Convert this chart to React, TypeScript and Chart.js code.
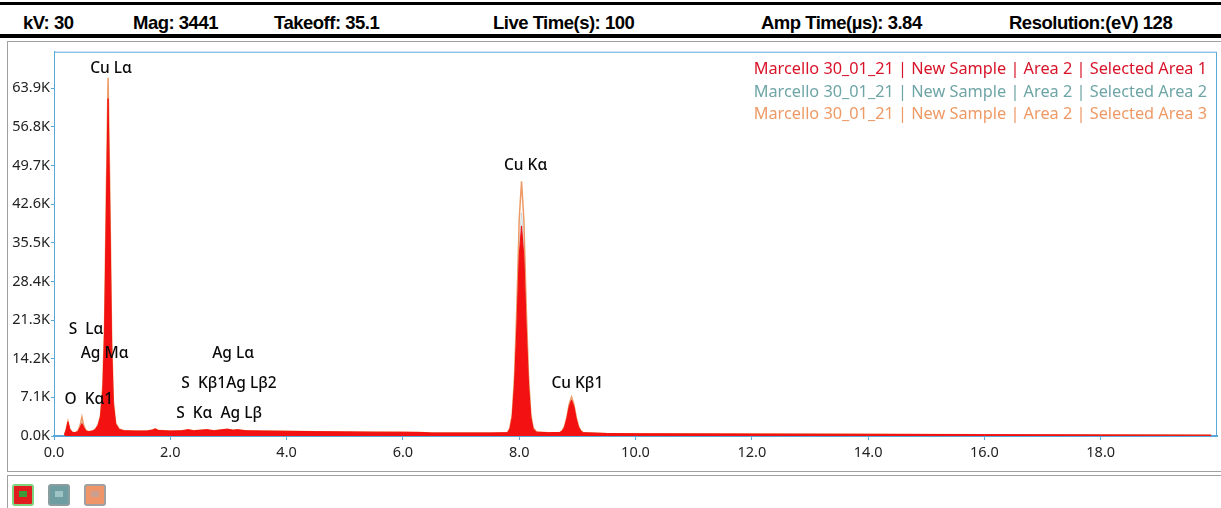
import React, { useEffect, useRef } from "react";
import { Chart, registerables } from "chart.js";

Chart.register(...registerables);

// ---------- DATA ----------
const energies = [
  0.18, 0.21, 0.24, 0.27, 0.31, 0.36, 0.41, 0.45, 0.48, 0.51, 0.55, 0.6, 0.66, 0.71, 0.76, 0.8, 0.84, 0.87,
  0.9, 0.93, 0.96, 0.99, 1.02, 1.06, 1.12, 1.2, 1.4, 1.6, 1.7, 1.74, 1.8, 2.0, 2.2, 2.31, 2.4, 2.63, 2.75,
  2.98, 3.08, 3.15, 3.3, 3.6, 4.0, 4.5, 5.0, 5.5, 6.0, 6.3, 6.5, 7.0, 7.5, 7.8, 7.84, 7.88, 7.92, 7.96, 8.0,
  8.04, 8.08, 8.12, 8.16, 8.2, 8.24, 8.3, 8.5, 8.7, 8.74, 8.78, 8.82, 8.86, 8.9, 8.94, 8.98, 9.02, 9.06, 9.1,
  9.5, 10, 12, 14, 16, 18, 19.9,
];

// counts in K (thousands)
const area1 = [
  0.2, 1.2, 2.6, 1.3, 0.7, 0.6, 0.8, 1.6, 2.3, 1.6, 0.9, 0.8, 0.9, 1.2, 2.0, 3.6, 8.5, 19,
  41, 62, 41, 17, 6, 2.2, 1.2, 0.95, 0.9, 0.9, 1.1, 1.3, 1.0, 0.9, 0.95, 1.15, 0.95, 1.15, 0.95,
  1.25, 1.05, 1.15, 0.95, 0.9, 0.85, 0.8, 0.75, 0.7, 0.68, 0.65, 0.55, 0.55, 0.55, 0.6, 1.3, 3.4, 9.5, 20, 33,
  38.6, 33, 20, 9.5, 3.4, 1.3, 0.7, 0.6, 0.65, 0.9, 1.6, 3.2, 5.4, 6.6, 5.4, 3.2, 1.6, 0.9, 0.6,
  0.45, 0.4, 0.35, 0.3, 0.25, 0.2, 0.15,
];

const area2 = [
  0.2, 1.1, 2.5, 1.2, 0.7, 0.6, 0.8, 1.7, 2.8, 1.7, 0.9, 0.8, 0.9, 1.2, 2.0, 3.5, 8.3, 18.5,
  40, 60, 40, 16.5, 5.8, 2.1, 1.2, 0.95, 0.9, 0.9, 1.1, 1.25, 1.0, 0.9, 0.95, 1.1, 0.95, 1.1, 0.95,
  1.2, 1.0, 1.1, 0.95, 0.9, 0.85, 0.8, 0.75, 0.7, 0.68, 0.65, 0.55, 0.55, 0.55, 0.6, 1.4, 3.6, 10, 21.3, 35,
  41, 35, 21.3, 10, 3.6, 1.4, 0.7, 0.6, 0.65, 0.95, 1.7, 3.3, 5.6, 6.8, 5.6, 3.3, 1.7, 0.95, 0.6,
  0.45, 0.4, 0.35, 0.3, 0.25, 0.2, 0.15,
];

const area3 = [
  0.2, 1.2, 2.7, 1.3, 0.7, 0.6, 0.9, 2.0, 3.5, 2.0, 1.0, 0.8, 0.9, 1.2, 2.1, 3.8, 9.5, 21,
  45, 65.8, 45, 19, 6.5, 2.4, 1.3, 1.0, 0.9, 0.9, 1.1, 1.3, 1.0, 0.9, 0.95, 1.15, 0.95, 1.15, 0.95,
  1.25, 1.05, 1.15, 0.95, 0.9, 0.85, 0.8, 0.75, 0.7, 0.68, 0.65, 0.55, 0.55, 0.55, 0.62, 1.5, 4.0, 11.2, 24, 39.8,
  46.8, 39.8, 24, 11.2, 4.0, 1.5, 0.75, 0.6, 0.65, 1.0, 1.8, 3.5, 5.9, 7.2, 5.9, 3.5, 1.8, 1.0, 0.62,
  0.45, 0.4, 0.35, 0.3, 0.25, 0.2, 0.15,
];

const seriesNames = [
  "Marcello 30_01_21 | New Sample | Area 2 | Selected Area 1",
  "Marcello 30_01_21 | New Sample | Area 2 | Selected Area 2",
  "Marcello 30_01_21 | New Sample | Area 2 | Selected Area 3",
];

const xTicks = [0, 2, 4, 6, 8, 10, 12, 14, 16, 18];
const yTicks = [0, 7.1, 14.2, 21.3, 28.4, 35.5, 42.6, 49.7, 56.8, 63.9];

const peakLabelTexts = ["Cu Lα", "Cu Kα", "Cu Kβ1", "S  Lα", "Ag Mα", "O  Kα1", "Ag Lα", "S  Kβ1Ag Lβ2", "S  Kα  Ag Lβ"];
const peakLabelEnergies = [0.98, 8.11, 9.0, 0.55, 0.87, 0.6, 3.08, 3.01, 2.84];
const peakLabelCounts = [67.5, 49.7, 9.6, 19.6, 15.1, 6.6, 15.1, 9.6, 4.2];

const headerTexts = ["kV: 30", "Mag: 3441", "Takeoff: 35.1", "Live Time(s): 100", "Amp Time(µs): 3.84", "Resolution:(eV) 128"];

// ---------- LAYOUT / STYLE ----------
const headerLeft = [23, 133, 274, 493, 761, 1009];
const seriesColors = ["#d8142a", "#6fa5a6", "#ee9a66"];
const axisBlue = "#5ba8da";
const labelFont = "'Noto Sans', 'Open Sans', sans-serif";

export default function App() {
  const canvasRef = useRef<HTMLCanvasElement | null>(null);

  useEffect(() => {
    if (!canvasRef.current) return;
    const pts = (arr: number[]) => energies.map((e, i) => ({ x: e, y: arr[i] }));

    const overlay = {
      id: "overlay",
      afterDraw(chart: any) {
        const { ctx, chartArea } = chart;
        const xs = chart.scales.x;
        const ys = chart.scales.y;
        ctx.save();
        // plot border
        ctx.strokeStyle = axisBlue;
        ctx.lineWidth = 1;
        ctx.strokeRect(chartArea.left + 0.5, chartArea.top + 0.5, chartArea.right - chartArea.left - 1, chartArea.bottom - chartArea.top);
        // peak labels
        ctx.fillStyle = "#0a0a0a";
        ctx.font = `500 15.5px ${labelFont}`;
        ctx.textAlign = "center";
        ctx.textBaseline = "middle";
        peakLabelTexts.forEach((t, i) => {
          ctx.fillText(t, xs.getPixelForValue(peakLabelEnergies[i]), ys.getPixelForValue(peakLabelCounts[i]));
        });
        // legend
        ctx.textAlign = "right";
        ctx.font = `16.3px ${labelFont}`;
        seriesNames.forEach((n, i) => {
          ctx.fillStyle = seriesColors[i];
          ctx.fillText(n, chartArea.right - 10, chartArea.top + 18 + i * 22.5);
        });
        ctx.restore();
      },
    };

    const chart = new Chart(canvasRef.current, {
      type: "line",
      data: {
        datasets: [
          {
            label: seriesNames[0],
            data: pts(area1),
            borderColor: "#f01010",
            backgroundColor: "#f41111",
            borderWidth: 1,
            fill: "origin",
            pointRadius: 0,
            tension: 0,
            order: 0,
          },
          {
            label: seriesNames[2],
            data: pts(area3),
            borderColor: seriesColors[2],
            borderWidth: 1.5,
            fill: false,
            pointRadius: 0,
            tension: 0,
            order: 1,
          },
          {
            label: seriesNames[1],
            data: pts(area2),
            borderColor: "#c9d6da",
            borderWidth: 1,
            fill: false,
            pointRadius: 0,
            tension: 0,
            order: 2,
          },
        ],
      },
      options: {
        animation: false,
        responsive: false,
        events: [],
        layout: { padding: { top: 4, right: 3, left: 0, bottom: 0 } },
        plugins: { legend: { display: false }, tooltip: { enabled: false } },
        scales: {
          x: {
            type: "linear",
            min: 0,
            max: 20,
            afterBuildTicks: (s: any) => {
              s.ticks = xTicks.map((v) => ({ value: v }));
            },
            afterFit: (s: any) => {
              s.height = 35;
            },
            ticks: {
              autoSkip: false,
              maxRotation: 0,
              padding: 4,
              color: "#222",
              font: { family: labelFont, size: 14.5 },
              callback: (v: any) => Number(v).toFixed(1),
            },
            grid: { drawOnChartArea: false, tickLength: 4, color: axisBlue },
            border: { color: axisBlue, width: 2 },
          },
          y: {
            type: "linear",
            min: 0,
            max: 70.6,
            afterBuildTicks: (s: any) => {
              s.ticks = yTicks.map((v) => ({ value: v }));
            },
            afterFit: (s: any) => {
              s.width = 46;
            },
            ticks: {
              padding: 1,
              color: "#222",
              font: { family: labelFont, size: 14.5 },
              callback: (v: any) => Number(v).toFixed(1) + "K",
            },
            grid: { drawOnChartArea: false, tickLength: 3, color: axisBlue },
            border: { color: axisBlue, width: 1 },
          },
        },
      },
      plugins: [overlay],
    } as any);
    return () => chart.destroy();
  }, []);

  const iconStyle = (left: number, bg: string, border: string): React.CSSProperties => ({
    position: "absolute",
    left,
    top: 484,
    width: 22,
    height: 22,
    background: bg,
    border: `2px solid ${border}`,
    borderRadius: 3,
    boxSizing: "border-box",
  });

  return (
    <div style={{ position: "fixed", left: 0, top: 0, width: 1221, height: 508, background: "#fff", overflow: "hidden" }}>
      {/* header */}
      <div style={{ position: "absolute", left: 0, top: 2, width: 1221, height: 3, background: "#000" }} />
      {headerTexts.map((t, i) => (
        <div
          key={i}
          style={{
            position: "absolute",
            left: headerLeft[i],
            top: 12,
            fontFamily: "'Liberation Sans', Arial, sans-serif",
            fontWeight: "bold",
            fontSize: 18.5,
            letterSpacing: -0.5,
            color: "#000",
            whiteSpace: "nowrap",
            lineHeight: "22px",
          }}
        >
          {t}
        </div>
      ))}
      <div style={{ position: "absolute", left: 0, top: 34, width: 1221, height: 4, background: "#000" }} />
      {/* chart frame */}
      <div style={{ position: "absolute", left: 7, top: 41, width: 1220, height: 431, border: "1px solid #a0a0a0", boxSizing: "border-box" }} />
      <canvas ref={canvasRef} width={1212} height={429} style={{ position: "absolute", left: 8, top: 42, width: 1212, height: 429 }} />
      {/* bottom panel */}
      <div style={{ position: "absolute", left: 7, top: 475, width: 1220, height: 40, border: "1px solid #a0a0a0", boxSizing: "border-box" }} />
      <div style={iconStyle(12, "#e01c1c", "#7fd27f")}>
        <div style={{ position: "absolute", left: 5, top: 5, width: 8, height: 6, background: "#3c9c3c" }} />
      </div>
      <div style={iconStyle(48, "#6f9ea2", "#8a9ea0")}>
        <div style={{ position: "absolute", left: 5, top: 5, width: 8, height: 6, background: "#9fc4c6" }} />
      </div>
      <div style={iconStyle(84, "#f0956a", "#a0a0a0")}>
        <div style={{ position: "absolute", left: 5, top: 5, width: 8, height: 6, background: "#c9a090" }} />
      </div>
    </div>
  );
}
